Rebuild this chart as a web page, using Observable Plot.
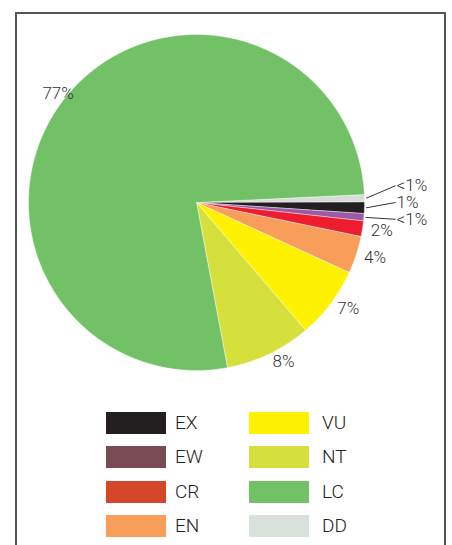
<!DOCTYPE html>
<html>
<head>
<meta charset="utf-8">
<script src="https://cdn.jsdelivr.net/npm/d3@7"></script>
<script src="https://cdn.jsdelivr.net/npm/@observablehq/plot@0.6"></script>
<style>
  html, body { margin: 0; padding: 0; background: #fff; }
  #wrap { position: relative; width: 452px; height: 545px; overflow: hidden; font-family: Roboto, "Liberation Sans", sans-serif; }
  #frame { position: absolute; left: 15px; top: 12px; width: 431px; height: 700px; border: 2px solid #555; box-sizing: border-box; }
  #chart { position: absolute; left: 0; top: 0; }
  #legend { position: absolute; left: 106px; top: 412px; display: grid;
    grid-template-columns: 60px 83px 60px 90px; grid-template-rows: repeat(4, 22px); row-gap: 12.3px; }
  .sw { width: 60px; height: 22px; }
  .lb { font-size: 19px; font-weight: 300; color: #222; line-height: 22px; }
</style>
</head>
<body>
<div id="wrap">
  <div id="frame"></div>
  <div id="chart"></div>
  <div id="legend"></div>
</div>
<script>
// Data (clockwise from just above 3 o'clock)
const categories = ["DD", "EX", "EW", "CR", "EN", "VU", "NT", "LC"];
const values     = [0.7, 1.1, 0.7, 1.5, 3.6, 6.9, 8.3, 77.2];
const labels     = ["<1%", "1%", "<1%", "2%", "4%", "7%", "8%", "77%"];
const pieColors  = ["#d5ddd6", "#231f20", "#9b59a6", "#ed1c2e", "#f99e5a", "#fff200", "#d6e03d", "#73c167"];
const calloutCats = ["DD", "EX", "EW"];

// Legend
const legendCats   = ["EX", "EW", "CR", "EN", "VU", "NT", "LC", "DD"];
const legendColors = ["#231f20", "#7a4a55", "#d4472b", "#f99e5a", "#fff200", "#d6e03d", "#73c167", "#d8e2da"];

const startDeg = 87.3;
const total = d3.sum(values);
const rad = Math.PI / 180;

// slice polygons
const slicePts = [];
const sliceInfo = [];
let a0 = startDeg;
categories.forEach((c, i) => {
  const a1 = a0 + values[i] / total * 360;
  slicePts.push({cat: c, x: 0, y: 0});
  const n = Math.max(2, Math.ceil((a1 - a0) / 0.5));
  for (let k = 0; k <= n; k++) {
    const a = (a0 + (a1 - a0) * k / n) * rad;
    slicePts.push({cat: c, x: Math.sin(a), y: Math.cos(a)});
  }
  slicePts.push({cat: c, x: 0, y: 0});
  sliceInfo.push({cat: c, label: labels[i], mid: (a0 + a1) / 2});
  a0 = a1;
});

const regular = sliceInfo.filter(d => !calloutCats.includes(d.cat)).map(d => {
  const x = 1.05 * Math.sin(d.mid * rad), y = 1.05 * Math.cos(d.mid * rad);
  return {label: d.label, x, y, anchor: x > 0 ? "start" : "middle"};
});
const call = sliceInfo.filter(d => calloutCats.includes(d.cat));
const nC = call.length;
const callouts = call.map((d, i) => ({
  label: d.label,
  x1: 1.01 * Math.sin(d.mid * rad), y1: 1.01 * Math.cos(d.mid * rad),
  x2: 1.185, y2: ((nC - 1) / 2 - i) * 0.1
}));

const labelStyle = {fontSize: 17, fontWeight: 300, fill: "#333"};

const chart = Plot.plot({
  width: 452, height: 400,
  marginLeft: 28, marginRight: 88, marginTop: 34, marginBottom: 30,
  x: {domain: [-1, 1], axis: null},
  y: {domain: [-1, 1], axis: null},
  color: {domain: categories, range: pieColors},
  style: {fontFamily: "Roboto, 'Liberation Sans', sans-serif", background: "transparent"},
  marks: [
    Plot.line(slicePts, {x: "x", y: "y", z: "cat", fill: "cat", stroke: "#ffffff", strokeWidth: 0.4, curve: "linear"}),
    Plot.link(callouts, {x1: "x1", y1: "y1", x2: "x2", y2: "y2", stroke: "#333", strokeWidth: 1}),
    Plot.text(callouts, {x: "x2", y: "y2", text: "label", textAnchor: "start", dx: 1, ...labelStyle}),
    Plot.text(regular.filter(d => d.anchor === "start"), {x: "x", y: "y", text: "label", textAnchor: "start", ...labelStyle}),
    Plot.text(regular.filter(d => d.anchor === "middle"), {x: "x", y: "y", text: "label", textAnchor: "middle", ...labelStyle})
  ]
});
document.getElementById("chart").appendChild(chart);

// Legend (two columns of four)
const leg = document.getElementById("legend");
legendCats.forEach((c, i) => {
  const col = Math.floor(i / 4), row = i % 4;
  const sw = document.createElement("div");
  sw.className = "sw";
  sw.style.background = legendColors[i];
  sw.style.gridRow = row + 1;
  sw.style.gridColumn = col * 2 + 1;
  const lb = document.createElement("div");
  lb.className = "lb";
  lb.textContent = c;
  lb.style.gridRow = row + 1;
  lb.style.gridColumn = col * 2 + 2;
  lb.style.paddingLeft = col === 0 ? "9px" : "13px";
  leg.appendChild(sw);
  leg.appendChild(lb);
});
</script>
</body>
</html>
